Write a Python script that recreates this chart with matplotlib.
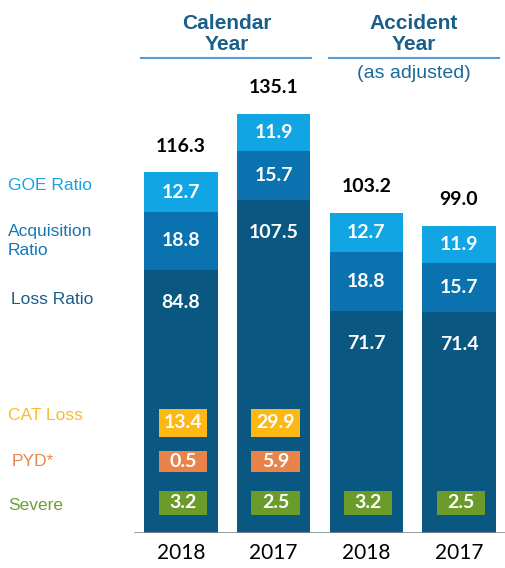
import numpy as np
import matplotlib
matplotlib.use("Agg")
import matplotlib.pyplot as plt

# Data -----------------------------------------------------------------
years = ['2018', '2017', '2018', '2017']
loss = [84.8, 107.5, 71.7, 71.4]
acquisition = [18.8, 15.7, 18.8, 15.7]
goe = [12.7, 11.9, 12.7, 11.9]
totals = [116.3, 135.1, 103.2, 99.0]
cat_loss = [13.4, 29.9, None, None]
pyd = [0.5, 5.9, None, None]
severe = [3.2, 2.5, 3.2, 2.5]

# Colours --------------------------------------------------------------
c_goe = '#12A5E3'
c_acq = '#0B72B0'
c_loss = '#0A5782'
c_cat = '#FDB813'
c_pyd = '#E8834A'
c_sev = '#6B9B2B'

W, H = 506, 568
fig = plt.figure(figsize=(W / 100, H / 100), dpi=100)
px = lambda x, y: (x / W, 1 - y / H)

# axes: x=0 at px 181, pitch ~92.7 px; y=0 at px 533, ~3.1 px per unit
ax = fig.add_axes([130 / W, (H - 533) / H, (W - 130) / W, 533 / H])
ax.set_xlim(-0.55, 3.507)
ax.set_ylim(0, 533 / 3.1)
ax.axis('off')

x = np.arange(len(years))
bw = 0.79
ax.bar(x, loss, bw, color=c_loss)
ax.bar(x, acquisition, bw, bottom=loss, color=c_acq)
ax.bar(x, goe, bw, bottom=np.add(loss, acquisition), color=c_goe)
ax.axhline(0, xmin=5 / 376, xmax=1, color='#7f8a94', lw=1.2)

num_font = dict(family=['Lato', 'DejaVu Sans'], fontweight='bold')
for i in range(len(years)):
    top_acq = loss[i] + acquisition[i]
    ax.text(x[i], top_acq + goe[i] / 2, f'{goe[i]:.1f}', color='white',
            ha='center', va='center', fontsize=14, **num_font)
    ax.text(x[i], loss[i] + acquisition[i] / 2, f'{acquisition[i]:.1f}',
            color='white', ha='center', va='center', fontsize=14, **num_font)
    ax.text(x[i], loss[i] - 10.5, f'{loss[i]:.1f}', color='white',
            ha='center', va='center', fontsize=14, **num_font)
    ax.text(x[i], totals[i] + 8.5, f'{totals[i]:.1f}', color='black',
            ha='center', va='center', fontsize=14, **num_font)
    ax.text(x[i], -6.5, years[i], color='black', ha='center', va='center',
            fontsize=15, family=['Lato', 'DejaVu Sans'])

# small overlay boxes for CAT, PYD and severe losses
bx = 0.52
for vals, col, bottom, h in [(cat_loss, c_cat, 31.0, 9.0),
                             (pyd, c_pyd, 19.6, 7.0),
                             (severe, c_sev, 5.8, 7.8)]:
    for i, v in enumerate(vals):
        if v is None:
            continue
        ax.bar(x[i] + 0.02, h, bx, bottom=bottom, color=col)
        ax.text(x[i] + 0.02, bottom + h / 2, f'{v:.1f}', color='white',
                ha='center', va='center', fontsize=14, **num_font)

# left-hand legend labels
lab = dict(family=['Liberation Sans', 'DejaVu Sans'], fontsize=12.5,
           va='center', ha='left')
fig.text(*px(8, 186), 'GOE Ratio', color='#1BA1E2', **lab)
fig.text(*px(8, 241), 'Acquisition\nRatio', color='#1677B5',
         linespacing=1.35, **lab)
fig.text(*px(11, 300), 'Loss Ratio', color='#1A5E8A', **lab)
fig.text(*px(8, 416), 'CAT Loss', color='#FDBA2C', **lab)
fig.text(*px(12, 462), 'PYD*', color='#E8894E', **lab)
fig.text(*px(8, 505), 'Severe', color='#6E9E35', **lab)

# headers
hd = dict(family=['Liberation Sans', 'DejaVu Sans'], fontsize=15,
          fontweight='bold', color='#1A5E8A', ha='center', va='center',
          linespacing=1.15)
fig.text(*px(227, 34), 'Calendar\nYear', **hd)
fig.text(*px(414, 34), 'Accident\nYear', **hd)
fig.text(*px(414, 74), '(as adjusted)', family=['Liberation Sans', 'DejaVu Sans'],
         fontsize=14, color='#1A6A9A', ha='center', va='center')
for x0, x1 in [(141, 311), (329, 499)]:
    fig.add_artist(plt.Line2D([x0 / W, x1 / W], [1 - 58 / H, 1 - 58 / H],
                              color='#5B9BD5', lw=1.5))

fig.savefig('out.png', dpi=100)
